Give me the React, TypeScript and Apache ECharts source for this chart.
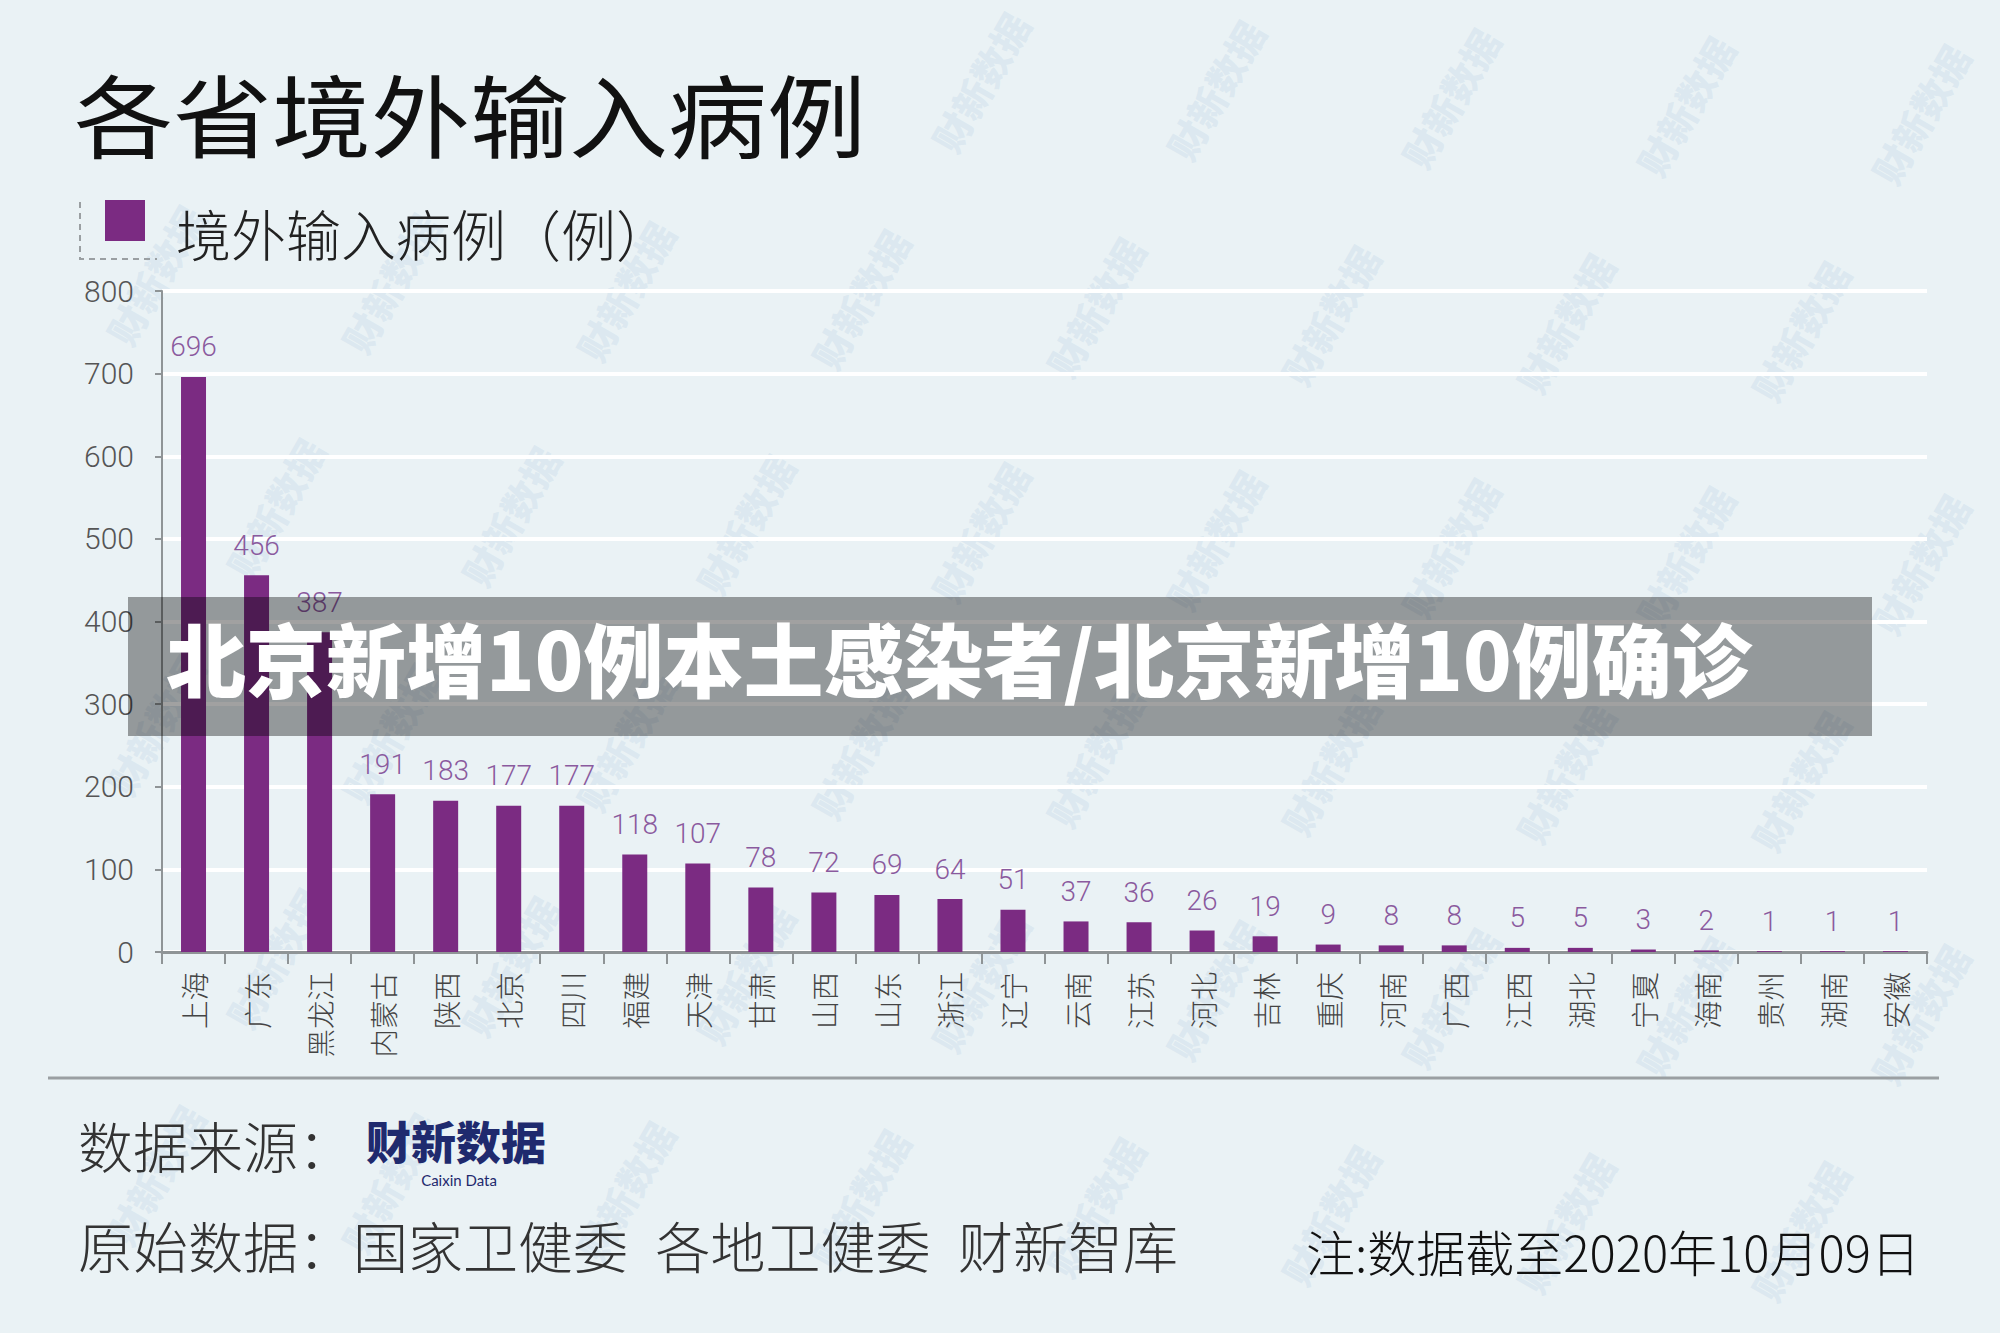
import React, { useEffect, useRef } from "react";
import * as echarts from "echarts";

const provinces = [
  "上海", "广东", "黑龙江", "内蒙古", "陕西", "北京", "四川", "福建", "天津", "甘肃",
  "山西", "山东", "浙江", "辽宁", "云南", "江苏", "河北", "吉林", "重庆", "河南",
  "广西", "江西", "湖北", "宁夏", "海南", "贵州", "湖南", "安徽",
];
const importedCases = [
  696, 456, 387, 191, 183, 177, 177, 118, 107, 78,
  72, 69, 64, 51, 37, 36, 26, 19, 9, 8,
  8, 5, 5, 3, 2, 1, 1, 1,
];
const seriesName = "境外输入病例（例）";
const chartTitle = "各省境外输入病例";
const bannerText = "北京新增10例本土感染者/北京新增10例确诊";
const sourceLabel = "数据来源：";
const rawSource = "原始数据：国家卫健委\u2002各地卫健委\u2002财新智库";
const noteText = "注:数据截至2020年10月09日";
const yMin = 0;
const yMax = 800;
const yStep = 100;

const CJK = "'Noto Sans CJK SC', 'Noto Sans', sans-serif";
const NUM = "Roboto, 'Liberation Sans', sans-serif";
const PURPLE = "#7B2B82";

export default function App() {
  const ref = useRef<HTMLDivElement>(null);
  useEffect(() => {
    document.body.style.margin = "0";
    document.body.style.overflow = "hidden";
    const chart = echarts.init(ref.current as HTMLDivElement, null, { renderer: "svg" });

    const watermarks: any[] = [];
    for (let r = 0; r < 7; r++) {
      for (let c = 0; c < 10; c++) {
        const x = 40 + c * 235 + (r % 2) * 115;
        const y = 50 + r * 225 + c * 8;
        if (x < 62 || x > 1938 || y < 82 || y > 1250) continue;
        watermarks.push({
          type: "text",
          x,
          y,
          rotation: Math.PI / 3,
          z: -1,
          silent: true,
          style: {
            text: "财新数据",
            fill: "rgba(190,212,230,0.32)",
            fontSize: 38,
            fontWeight: 900,
            fontFamily: CJK,
            align: "center",
            verticalAlign: "middle",
          },
        });
      }
    }

    const option: any = {
      animation: false,
      backgroundColor: "#EAF2F5",
      grid: { left: 162, right: 73, top: 291, bottom: 381, containLabel: false },
      xAxis: {
        type: "category",
        data: provinces,
        axisLine: { show: true, lineStyle: { color: "#8f9496", width: 3 } },
        axisTick: { show: true, length: 12, alignWithLabel: false, lineStyle: { color: "#8f9496", width: 2 } },
        axisLabel: {
          interval: 0,
          rotate: 90,
          margin: 20,
          fontSize: 28.5,
          color: "#444",
          fontFamily: CJK,
          fontWeight: 300,
        },
      },
      yAxis: {
        type: "value",
        min: yMin,
        max: yMax,
        interval: yStep,
        axisLine: { show: true, lineStyle: { color: "#8f9496", width: 2 } },
        axisTick: { show: true, length: 7, lineStyle: { color: "#8f9496", width: 2 } },
        axisLabel: { margin: 28, fontSize: 30, color: "#555", fontFamily: NUM, fontWeight: 300 },
        splitLine: { show: true, lineStyle: { color: "#ffffff", width: 4 } },
      },
      series: [
        {
          name: seriesName,
          type: "bar",
          data: importedCases,
          barWidth: 25,
          itemStyle: { color: PURPLE },
          label: {
            show: true,
            position: "top",
            distance: 16,
            fontSize: 28,
            color: "#8a5a9e",
            fontFamily: NUM,
            fontWeight: 300,
          },
        },
      ],
      graphic: [
        ...watermarks,
        {
          type: "text",
          x: 74,
          y: 112,
          scaleX: 1.1,
          style: {
            text: chartTitle,
            fill: "#111",
            fontSize: 90,
            fontFamily: CJK,
            fontWeight: 400,
            align: "left",
            verticalAlign: "middle",
          },
        },
        {
          type: "rect",
          shape: { x: 105, y: 200, width: 40, height: 41 },
          style: { fill: PURPLE },
        },
        {
          type: "polyline",
          shape: { points: [[80, 202], [80, 259], [157, 259]] },
          style: { stroke: "#9a9fa2", lineWidth: 2, lineDash: [6, 5], fill: null },
        },
        {
          type: "text",
          x: 176,
          y: 232,
          style: {
            text: seriesName,
            fill: "#222",
            fontSize: 55,
            fontFamily: CJK,
            fontWeight: 300,
            align: "left",
            verticalAlign: "middle",
          },
        },
        {
          type: "line",
          shape: { x1: 48, y1: 1078, x2: 1939, y2: 1078 },
          style: { stroke: "#9a9fa2", lineWidth: 3 },
        },
        {
          type: "text",
          x: 78,
          y: 1144,
          style: {
            text: sourceLabel,
            fill: "#333",
            fontSize: 55,
            fontFamily: CJK,
            fontWeight: 300,
            align: "left",
            verticalAlign: "middle",
          },
        },
        {
          type: "text",
          x: 366,
          y: 1140,
          style: {
            text: "财新数据",
            fill: "#1f2a6e",
            fontSize: 45,
            lineHeight: 45,
            fontFamily: CJK,
            fontWeight: 900,
            align: "left",
            verticalAlign: "middle",
          },
        },
        {
          type: "text",
          x: 459,
          y: 1180,
          style: {
            text: "Caixin Data",
            fill: "#1f2a6e",
            fontSize: 15,
            lineHeight: 15,
            fontFamily: "Lato, Roboto, sans-serif",
            align: "center",
            verticalAlign: "middle",
          },
        },
        {
          type: "text",
          x: 78,
          y: 1244,
          style: {
            text: rawSource,
            fill: "#333",
            fontSize: 55,
            fontFamily: CJK,
            fontWeight: 300,
            align: "left",
            verticalAlign: "middle",
          },
        },
        {
          type: "text",
          x: 1306,
          y: 1250,
          style: {
            text: noteText,
            fill: "#111",
            fontSize: 49,
            fontFamily: CJK,
            fontWeight: 300,
            align: "left",
            verticalAlign: "middle",
          },
        },
        {
          type: "rect",
          z: 100,
          shape: { x: 128, y: 597, width: 1744, height: 139 },
          style: { fill: "rgba(0,0,0,0.37)" },
        },
        {
          type: "text",
          z: 101,
          x: 166,
          y: 656,
          style: {
            text: bannerText,
            fill: "#ffffff",
            fontSize: 80,
            fontFamily: CJK,
            fontWeight: 900,
            align: "left",
            verticalAlign: "middle",
          },
        },
      ],
    };
    chart.setOption(option);
    return () => chart.dispose();
  }, []);
  return <div ref={ref} style={{ width: 2000, height: 1333 }} />;
}
